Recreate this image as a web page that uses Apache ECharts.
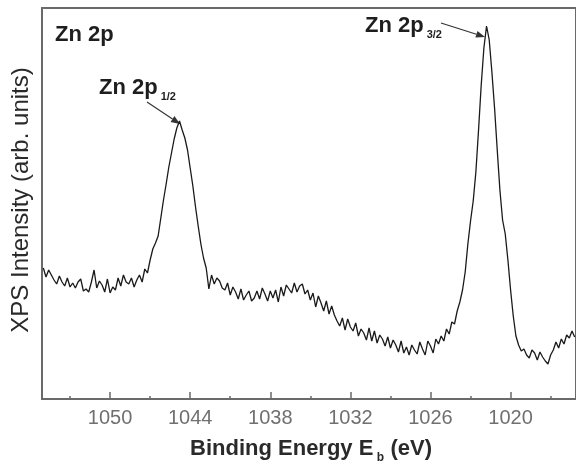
<!DOCTYPE html>
<html><head><meta charset="utf-8">
<script src="https://cdn.jsdelivr.net/npm/echarts@6/dist/echarts.min.js"></script>
<style>html,body{margin:0;padding:0;background:#fff}#c{width:576px;height:468px}</style>
</head><body><div id="c"></div>
<script>
const energies = [
1055.0,1054.8,1054.6,1054.4,1054.2,1054.0,1053.8,1053.6,1053.4,1053.2,
1053.0,1052.8,1052.6,1052.4,1052.2,1052.0,1051.8,1051.6,1051.4,1051.2,
1051.0,1050.8,1050.6,1050.4,1050.2,1050.0,1049.8,1049.6,1049.4,1049.2,
1049.0,1048.8,1048.6,1048.4,1048.2,1048.0,1047.8,1047.6,1047.4,1047.2,
1047.0,1046.8,1046.6,1046.4,1046.2,1046.0,1045.8,1045.6,1045.4,1045.2,
1045.0,1044.8,1044.6,1044.4,1044.2,1044.0,1043.8,1043.6,1043.4,1043.2,
1043.0,1042.8,1042.6,1042.4,1042.2,1042.0,1041.8,1041.6,1041.4,1041.2,
1041.0,1040.8,1040.6,1040.4,1040.2,1040.0,1039.8,1039.6,1039.4,1039.2,
1039.0,1038.8,1038.6,1038.4,1038.2,1038.0,1037.8,1037.6,1037.4,1037.2,
1037.0,1036.8,1036.6,1036.4,1036.2,1036.0,1035.8,1035.6,1035.4,1035.2,
1035.0,1034.8,1034.6,1034.4,1034.2,1034.0,1033.8,1033.6,1033.4,1033.2,
1033.0,1032.8,1032.6,1032.4,1032.2,1032.0,1031.8,1031.6,1031.4,1031.2,
1031.0,1030.8,1030.6,1030.4,1030.2,1030.0,1029.8,1029.6,1029.4,1029.2,
1029.0,1028.8,1028.6,1028.4,1028.2,1028.0,1027.8,1027.6,1027.4,1027.2,
1027.0,1026.8,1026.6,1026.4,1026.2,1026.0,1025.8,1025.6,1025.4,1025.2,
1025.0,1024.8,1024.6,1024.4,1024.2,1024.0,1023.8,1023.6,1023.4,1023.2,
1023.0,1022.8,1022.6,1022.4,1022.2,1022.0,1021.8,1021.6,1021.4,1021.2,
1021.0,1020.8,1020.6,1020.4,1020.2,1020.0,1019.8,1019.6,1019.4,1019.2,
1019.0,1018.8,1018.6,1018.4,1018.2,1018.0,1017.8,1017.6,1017.4,1017.2,
1017.0,1016.8,1016.6,1016.4,1016.2,1016.0,1015.8,1015.6,1015.4,1015.2
];
const intensities = [
131,122,129,124,119,115,123,117,113,121,
112,116,111,117,120,108,110,107,117,129,
111,118,114,107,120,106,112,109,121,113,
124,117,115,121,112,119,124,117,130,126,
139,150,156,163,181,199,215,232,246,260,
271,278,269,261,249,231,213,192,173,155,
141,131,110,124,115,121,118,111,109,116,
104,112,107,100,110,99,104,108,98,101,
108,100,111,105,98,108,101,109,97,112,
103,114,110,106,116,107,113,115,105,109,
99,106,92,103,96,88,98,85,93,84,
78,73,81,69,80,72,68,76,63,70,
66,59,71,58,68,56,64,60,53,62,
51,59,54,47,58,46,52,44,54,49,
45,57,50,44,58,53,46,60,55,63,
58,70,65,77,75,88,97,109,127,155,
178,198,227,269,314,351,373,359,327,291,
249,209,179,165,139,109,83,63,54,48,
50,44,41,49,46,39,47,42,38,35,
44,49,57,51,60,55,64,61,68,62
];
const majorTicks = [1050,1044,1038,1032,1026,1020];
const minorTicks = [1053,1047,1041,1035,1029,1023,1017];
const yTitle = 'XPS Intensity (arb. units)';
const panelLabel = 'Zn 2p';
const peakLabels = [{main:'Zn 2p', sub:'1/2'}, {main:'Zn 2p', sub:'3/2'}];

const chart = echarts.init(document.getElementById('c'), null, {renderer:'canvas'});
const data = energies.map((e,i)=>[e,intensities[i]]);
const FF = '"Liberation Sans", Arial, sans-serif';
const axisCol = '#6a6a6a';

function arrow(x1,y1,x2,y2){
  const a = Math.atan2(y2-y1,x2-x1), L=9, W=3.5;
  const bx = x2 - L*Math.cos(a), by = y2 - L*Math.sin(a);
  const px = -Math.sin(a)*W, py = Math.cos(a)*W;
  return [
    {type:'line', shape:{x1:x1,y1:y1,x2:bx,y2:by}, style:{stroke:'#333', lineWidth:1.2}},
    {type:'polygon', shape:{points:[[x2,y2],[bx+px,by+py],[bx-px,by-py]]}, style:{fill:'#333'}}
  ];
}

const option = {
  animation:false,
  grid:{left:42, top:8, width:536, height:391, show:true, borderColor:axisCol, borderWidth:2, backgroundColor:'transparent'},
  xAxis:[{
    type:'value', inverse:true, min:1015.1, max:1055.1,
    axisLine:{show:true, lineStyle:{color:axisCol, width:2}},
    axisTick:{show:true, inside:true, length:7, customValues:majorTicks, lineStyle:{color:axisCol, width:1.5}},
    axisLabel:{customValues:majorTicks, formatter:function(v){return String(v);}, margin:9, fontSize:20, color:'#707070', fontFamily:FF},
    splitLine:{show:false}
  },{
    type:'value', inverse:true, min:1015.1, max:1055.1, position:'bottom', offset:0,
    axisLine:{show:false},
    axisTick:{show:true, inside:true, length:3, customValues:minorTicks, lineStyle:{color:axisCol, width:1.5}},
    axisLabel:{show:false}, splitLine:{show:false}
  }],
  yAxis:{type:'value', min:0, max:391,
    axisLine:{show:true, lineStyle:{color:axisCol, width:2}},
    axisTick:{show:false}, axisLabel:{show:false}, splitLine:{show:false}},
  series:[{type:'line', xAxisIndex:0, data:data, showSymbol:false, lineStyle:{color:'#1a1a1a', width:1.3}}],
  graphic:[
    {type:'text', x:21, y:200, rotation:Math.PI/2, style:{text:yTitle, font:'24px '+FF, fill:'#2a2a2a', align:'center', verticalAlign:'middle'}},
    {type:'text', x:311, y:449, style:{text:'{a|Binding Energy E}{s| b} {a|(eV)}', align:'center', verticalAlign:'middle',
       rich:{a:{font:'bold 22px '+FF, fill:'#2a2a2a'}, s:{font:'bold 12px '+FF, fill:'#2a2a2a', padding:[17,3,0,0]}}}},
    {type:'text', x:55, y:35, style:{text:panelLabel, font:'bold 22px '+FF, fill:'#1e1e1e', align:'left', verticalAlign:'middle'}},
    {type:'text', x:99, y:88, style:{text:'{a|'+peakLabels[0].main+'}{s|'+peakLabels[0].sub+'}', align:'left', verticalAlign:'middle',
       rich:{a:{font:'bold 22px '+FF, fill:'#1e1e1e'}, s:{font:'bold 11px '+FF, fill:'#1e1e1e', padding:[17,0,0,3]}}}},
    {type:'text', x:365, y:26, style:{text:'{a|'+peakLabels[1].main+'}{s|'+peakLabels[1].sub+'}', align:'left', verticalAlign:'middle',
       rich:{a:{font:'bold 22px '+FF, fill:'#1e1e1e'}, s:{font:'bold 11px '+FF, fill:'#1e1e1e', padding:[17,0,0,3]}}}}
  ].concat(arrow(147,102,180,124), arrow(441,23,485,37))
};
chart.setOption(option);
</script></body></html>
